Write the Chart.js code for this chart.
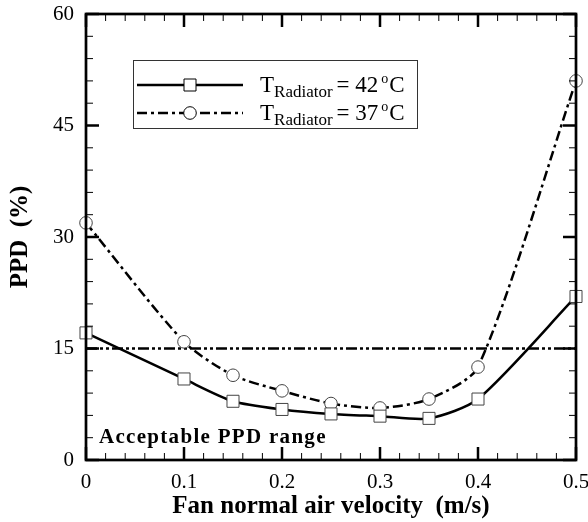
<!DOCTYPE html>
<html>
<head>
<meta charset="utf-8">
<script src="https://cdn.jsdelivr.net/npm/chart.js@4"></script>
<style>
  html, body { margin: 0; padding: 0; background: #fff; }
  #wrap { width: 588px; height: 522px; }
</style>
</head>
<body>
<div id="wrap"><canvas id="ppdChart"></canvas></div>
<script>
// fan velocity (m/s) and PPD (%)
var velocity = [0, 0.1, 0.15, 0.2, 0.25, 0.3, 0.35, 0.4, 0.5];
var ppd42 = [17.1, 10.9, 7.9, 6.8, 6.2, 5.9, 5.6, 8.2, 22.0];
var ppd37 = [31.9, 15.9, 11.4, 9.3, 7.6, 7.0, 8.2, 12.5, 51.0];
var ppdLimit = 15;
var xTicks = [0, 0.1, 0.2, 0.3, 0.4, 0.5];
var yTicks = [0, 15, 30, 45, 60];
var seriesLabels = ['42', '37'];

var serif = '"Liberation Serif", "Times New Roman", serif';

function pts(ys) {
    return velocity.map(function (v, i) { return { x: v, y: ys[i] }; });
}

// frame, inward ticks, custom legend and the note
var decor = {
    id: 'decor',
    afterDraw: function (chart) {
        var c = chart.ctx, a = chart.chartArea;
        var xs = chart.scales.x, ys = chart.scales.y;
        c.save();
        c.strokeStyle = '#000';

        // ticks
        var i, v, p;
        for (i = 0; i <= 25; i++) {
            v = i * 0.02;
            p = xs.getPixelForValue(v);
            var major = i % 5 === 0;
            c.lineWidth = major ? 2.5 : 1;
            var len = major ? 13 : 7;
            c.beginPath();
            c.moveTo(p, a.bottom); c.lineTo(p, a.bottom - len);
            c.moveTo(p, a.top); c.lineTo(p, a.top + len);
            c.stroke();
        }
        for (i = 0; i <= 20; i++) {
            v = i * 3;
            p = ys.getPixelForValue(v);
            var majorY = i % 5 === 0;
            c.lineWidth = majorY ? 2.5 : 1;
            var lenY = majorY ? 13 : 7;
            c.beginPath();
            c.moveTo(a.left, p); c.lineTo(a.left + lenY, p);
            c.moveTo(a.right, p); c.lineTo(a.right - lenY, p);
            c.stroke();
        }

        // frame
        c.lineWidth = 2.7;
        c.strokeRect(a.left, a.top, a.right - a.left, a.bottom - a.top);

        // legend box
        c.lineWidth = 1;
        c.strokeStyle = '#333';
        c.strokeRect(133.5, 60.5, 284, 68);
        var rows = [
            { y: 85, dash: [], shape: 'rect', temp: seriesLabels[0] },
            { y: 113, dash: [10, 4, 3, 4], shape: 'circle', temp: seriesLabels[1] }
        ];
        rows.forEach(function (r) {
            c.strokeStyle = '#000';
            c.lineWidth = 2.5;
            c.setLineDash(r.dash);
            c.beginPath();
            c.moveTo(137, r.y); c.lineTo(243, r.y);
            c.stroke();
            c.setLineDash([]);
            c.lineWidth = 1;
            c.fillStyle = '#fff';
            c.beginPath();
            if (r.shape === 'rect') c.rect(184, r.y - 6, 12, 12);
            else c.arc(190, r.y, 6.3, 0, Math.PI * 2);
            c.fill(); c.stroke();

            c.fillStyle = '#000';
            c.textBaseline = 'alphabetic';
            c.textAlign = 'left';
            var x = 260, base = r.y + 7;
            c.font = '23px ' + serif;
            c.fillText('T', x, base); x += c.measureText('T').width;
            c.font = '17px ' + serif;
            c.fillText('Radiator', x, base + 5); x += c.measureText('Radiator').width + 4;
            c.font = '23px ' + serif;
            var s = '= ' + r.temp;
            c.fillText(s, x, base); x += c.measureText(s).width + 3;
            c.font = '14px ' + serif;
            c.fillText('o', x, base - 9); x += c.measureText('o').width + 1;
            c.font = '23px ' + serif;
            c.fillText('C', x, base);
        });

        // note
        c.fillStyle = '#000';
        c.font = 'bold 21px ' + serif;
        if ('letterSpacing' in c) c.letterSpacing = '1.3px';
        c.fillText('Acceptable PPD range', 99, 443);
        c.restore();
    }
};

var ctx = document.getElementById('ppdChart').getContext('2d');

var ppdChart = new Chart(ctx, {
    type: 'scatter',
    data: {
        datasets: [{
            label: 'T Radiator = 42 °C',
            data: pts(ppd42),
            showLine: true,
            borderColor: '#000',
            borderWidth: 2.5,
            tension: 0.25,
            pointStyle: 'rect',
            pointRadius: 8.5,
            pointBorderWidth: 1,
            pointBackgroundColor: '#fff',
            pointBorderColor: '#444',
            clip: false
        }, {
            label: 'T Radiator = 37 °C',
            data: pts(ppd37),
            showLine: true,
            borderColor: '#000',
            borderWidth: 2.5,
            borderDash: [10, 4, 3, 4],
            tension: 0.25,
            pointStyle: 'circle',
            pointRadius: 6.3,
            pointBorderWidth: 1,
            pointBackgroundColor: '#fff',
            pointBorderColor: '#444',
            clip: false
        }, {
            label: 'limit',
            data: [{ x: 0, y: ppdLimit }, { x: 0.5, y: ppdLimit }],
            showLine: true,
            borderColor: '#000',
            borderWidth: 2.5,
            borderDash: [11, 3, 3, 3, 3, 3],
            pointRadius: 0
        }]
    },
    options: {
        responsive: true,
        maintainAspectRatio: false,
        animation: false,
        layout: { padding: { top: 14, right: 12, left: 0, bottom: 0 } },
        plugins: {
            legend: { display: false },
            tooltip: { enabled: false }
        },
        scales: {
            x: {
                type: 'linear',
                min: 0,
                max: 0.5,
                afterFit: function (s) {
                    s.height = 62;
                    s.paddingLeft = 0;
                    s.paddingRight = 0;
                },
                afterBuildTicks: function (s) { s.ticks = xTicks.map(function (v) { return { value: v }; }); },
                grid: { display: false, drawTicks: false },
                border: { display: false },
                ticks: {
                    padding: 10,
                    color: '#000',
                    font: { family: serif, size: 21 },
                    callback: function (v) { return String(Math.round(v * 10) / 10); }
                },
                title: {
                    display: true,
                    text: 'Fan normal air velocity  (m/s)',
                    color: '#000',
                    font: { family: serif, size: 25, weight: 'bold' },
                    padding: { top: 0, bottom: 0 }
                }
            },
            y: {
                min: 0,
                max: 60,
                afterFit: function (s) {
                    s.width = 86;
                    s.paddingTop = 0;
                    s.paddingBottom = 0;
                },
                afterBuildTicks: function (s) { s.ticks = yTicks.map(function (v) { return { value: v }; }); },
                grid: { display: false, drawTicks: false },
                border: { display: false },
                ticks: {
                    padding: 12,
                    color: '#000',
                    font: { family: serif, size: 21 }
                },
                title: {
                    display: true,
                    text: 'PPD  (%)',
                    color: '#000',
                    font: { family: serif, size: 25, weight: 'bold' },
                    padding: { top: 6, bottom: 0 }
                }
            }
        }
    },
    plugins: [decor]
});
</script>
</body>
</html>
